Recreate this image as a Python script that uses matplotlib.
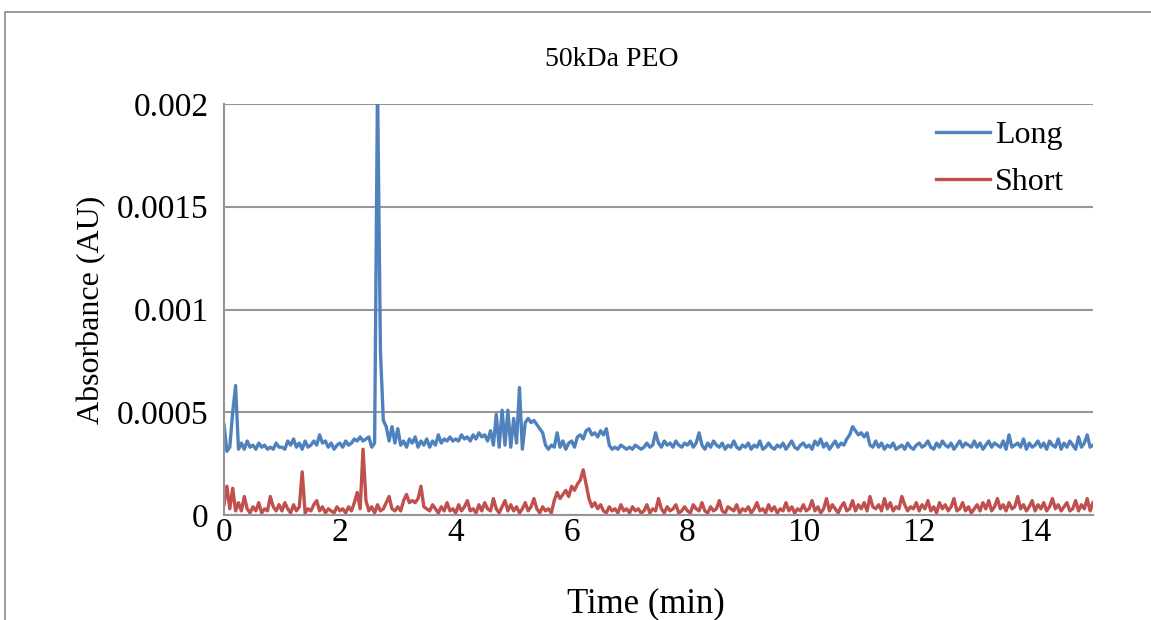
import numpy as np
import matplotlib.pyplot as plt
from matplotlib.patches import Rectangle
from matplotlib.ticker import FuncFormatter

# absorbance, in units of 1e-4 AU, one row per minute (step 0.05 min)
long_abs = [
    4.4, 3.1, 3.3, 5.0, 6.3, 3.2, 3.5, 3.2, 3.6, 3.3, 3.4, 3.2, 3.5, 3.3, 3.4, 3.2, 3.3, 3.2, 3.5, 3.3,
    3.3, 3.2, 3.6, 3.4, 3.7, 3.3, 3.5, 3.2, 3.6, 3.3, 3.4, 3.6, 3.4, 3.9, 3.5, 3.6, 3.3, 3.5, 3.2, 3.4,
    3.5, 3.3, 3.6, 3.4, 3.5, 3.7, 3.6, 3.8, 3.6, 3.7, 3.8, 3.3, 3.5, 21.0, 8.0, 4.6, 4.3, 3.6, 4.3, 3.5,
    4.2, 3.4, 3.6, 3.3, 3.7, 3.5, 3.8, 3.3, 3.6, 3.4, 3.7, 3.3, 3.6, 3.4, 3.9, 3.5, 3.7, 3.6, 3.8, 3.6,
    3.7, 3.6, 3.9, 3.7, 3.8, 3.6, 3.9, 3.7, 4.0, 3.8, 3.9, 3.6, 4.1, 3.4, 4.9, 3.3, 5.1, 3.4, 5.1, 3.3,
    4.7, 3.5, 6.2, 3.2, 4.5, 4.7, 4.5, 4.6, 4.4, 4.2, 4.0, 3.4, 3.2, 3.4, 3.3, 4.0, 3.3, 3.6, 3.2, 3.5,
    3.6, 3.3, 3.8, 3.9, 3.7, 4.1, 4.2, 3.9, 4.0, 3.8, 4.1, 3.9, 4.2, 3.4, 3.2, 3.3, 3.2, 3.4, 3.3, 3.2,
    3.3, 3.2, 3.4, 3.3, 3.2, 3.3, 3.5, 3.3, 3.4, 4.0, 3.5, 3.3, 3.6, 3.4, 3.5, 3.3, 3.6, 3.4, 3.3, 3.5,
    3.4, 3.6, 3.3, 3.5, 4.0, 3.4, 3.2, 3.5, 3.3, 3.6, 3.4, 3.3, 3.5, 3.2, 3.4, 3.3, 3.6, 3.3, 3.2, 3.4,
    3.3, 3.5, 3.2, 3.4, 3.3, 3.6, 3.2, 3.3, 3.5, 3.3, 3.2, 3.4, 3.3, 3.5, 3.2, 3.4, 3.6, 3.3, 3.2, 3.4,
    3.5, 3.3, 3.4, 3.2, 3.6, 3.4, 3.7, 3.3, 3.5, 3.2, 3.4, 3.6, 3.3, 3.5, 3.4, 3.7, 3.9, 4.3, 4.1, 3.9,
    4.0, 3.8, 4.0, 3.4, 3.3, 3.6, 3.3, 3.5, 3.2, 3.4, 3.3, 3.5, 3.2, 3.3, 3.4, 3.2, 3.5, 3.3, 3.2, 3.4,
    3.5, 3.3, 3.4, 3.6, 3.3, 3.2, 3.5, 3.3, 3.6, 3.4, 3.3, 3.5, 3.2, 3.4, 3.6, 3.3, 3.5, 3.4, 3.3, 3.6,
    3.3, 3.5, 3.2, 3.4, 3.6, 3.3, 3.5, 3.4, 3.3, 3.6, 3.2, 3.9, 3.3, 3.4, 3.5, 3.3, 3.7, 3.2, 3.5, 3.3,
    3.4, 3.6, 3.3, 3.5, 3.2, 3.6, 3.4, 3.3, 3.7, 3.2, 3.5, 3.3, 3.6, 3.4, 3.2, 3.8, 3.3, 3.5, 3.9, 3.3,
    3.4,
]
short_abs = [
    0.5, 1.4, 0.3, 1.3, 0.2, 0.6, 0.2, 0.9, 0.3, 0.1, 0.4, 0.2, 0.6, 0.1, 0.3, 0.2, 0.9, 0.4, 0.2, 0.5,
    0.2, 0.6, 0.3, 0.1, 0.5, 0.2, 0.4, 2.1, 0.1, 0.3, 0.2, 0.5, 0.7, 0.2, 0.4, 0.1, 0.3, 0.2, 0.1, 0.4,
    0.2, 0.3, 0.1, 0.4, 0.2, 0.6, 1.1, 0.3, 3.2, 0.7, 0.2, 0.4, 0.1, 0.5, 0.2, 0.3, 0.6, 0.9, 0.3, 0.2,
    0.4, 0.2, 0.7, 1.0, 0.6, 0.7, 0.6, 0.8, 1.4, 0.4, 0.3, 0.2, 0.5, 0.3, 0.1, 0.4, 0.2, 0.6, 0.2, 0.3,
    0.1, 0.5, 0.2, 0.4, 0.7, 0.2, 0.3, 0.1, 0.5, 0.2, 0.6, 0.3, 0.2, 0.8, 0.3, 0.1, 0.4, 0.7, 0.2, 0.5,
    0.2, 0.4, 0.1, 0.3, 0.6, 0.2, 0.4, 0.8, 0.3, 0.1, 0.4, 0.2, 0.3, 0.1, 0.7, 1.1, 0.8, 1.0, 1.2, 0.9,
    1.4, 1.2, 1.5, 1.7, 2.2, 1.5, 0.8, 0.4, 0.6, 0.3, 0.5, 0.2, 0.1, 0.4, 0.2, 0.3, 0.1, 0.5, 0.2, 0.3,
    0.1, 0.4, 0.2, 0.3, 0.1, 0.2, 0.5, 0.1, 0.3, 0.2, 0.8, 0.3, 0.1, 0.4, 0.2, 0.3, 0.5, 0.1, 0.2, 0.4,
    0.2, 0.1, 0.5, 0.3, 0.2, 0.6, 0.2, 0.1, 0.4, 0.2, 0.3, 0.7, 0.2, 0.1, 0.4, 0.3, 0.2, 0.5, 0.1, 0.3,
    0.2, 0.4, 0.1, 0.3, 0.6, 0.2, 0.3, 0.1, 0.5, 0.2, 0.4, 0.1, 0.3, 0.2, 0.6, 0.2, 0.4, 0.1, 0.3, 0.2,
    0.5, 0.2, 0.3, 0.7, 0.2, 0.4, 0.1, 0.3, 0.8, 0.2, 0.5, 0.3, 0.1, 0.4, 0.6, 0.2, 0.3, 0.7, 0.2, 0.5,
    0.3, 0.6, 0.2, 0.9, 0.4, 0.3, 0.5, 0.2, 0.8, 0.3, 0.6, 0.2, 0.4, 0.3, 0.9, 0.5, 0.2, 0.4, 0.3, 0.6,
    0.2, 0.5, 0.3, 0.7, 0.2, 0.4, 0.1, 0.6, 0.3, 0.5, 0.2, 0.4, 0.8, 0.2, 0.3, 0.6, 0.2, 0.4, 0.1, 0.3,
    0.5, 0.2, 0.6, 0.3, 0.7, 0.2, 0.4, 0.8, 0.3, 0.5, 0.2, 0.6, 0.3, 0.4, 0.9, 0.3, 0.5, 0.2, 0.4, 0.7,
    0.2, 0.5, 0.3, 0.6, 0.2, 0.4, 0.8, 0.3, 0.5, 0.2, 0.4, 0.6, 0.2, 0.3, 0.7, 0.2, 0.5, 0.3, 0.8, 0.2,
    0.6,
]
time_min = np.linspace(0, 15, len(long_abs))
series_names = ["Long", "Short"]
x_ticks = [0, 2, 4, 6, 8, 10, 12, 14]
y_ticks = [0, 0.0005, 0.001, 0.0015, 0.002]

plt.rcParams["font.family"] = ["Liberation Serif", "DejaVu Serif"]

fig = plt.figure(figsize=(11.51, 6.2), dpi=100)
ax = fig.add_axes([224 / 1151, 1 - 515 / 620, (1093 - 224) / 1151, (515 - 104) / 620])

# chart-area border (cropped on the right and bottom)
fig.patches.append(Rectangle((5 / 1151, -0.2), 1.5, 1.2 - 12 / 620,
                             transform=fig.transFigure, fill=False,
                             edgecolor="#8c8c8c", lw=1.2))

ax.plot(time_min, np.array(long_abs) * 1e-4, color="#4F81BD", lw=2.4, label=series_names[0])
ax.plot(time_min, np.array(short_abs) * 1e-4, color="#C0504D", lw=2.4, label=series_names[1])

ax.set_xlim(0, 15)
ax.set_ylim(0, 0.002)
ax.set_xticks(x_ticks)
ax.set_yticks(y_ticks)
ax.yaxis.set_major_formatter(FuncFormatter(lambda v, p: f"{v:g}"))
ax.grid(axis="y", color="#969696", lw=1.5)
ax.set_axisbelow(True)
for s in ["top", "right"]:
    ax.spines[s].set_visible(False)
for s in ["left", "bottom"]:
    ax.spines[s].set_color("#969696")
    ax.spines[s].set_linewidth(1.5)
ax.tick_params(length=0, labelsize=24)
ax.tick_params(axis="y", pad=11)
ax.tick_params(axis="x", pad=2)

# title is centred on the chart area rather than the plot area
fig.text(612 / 1151, 1 - 60 / 620, "50kDa PEO", fontsize=20, ha="center", va="center")
ax.set_xlabel("Time (min)", fontsize=25)
ax.xaxis.set_label_coords((646 - 224) / 869, (515 - 587) / 411)
ax.set_ylabel("Absorbance (AU)", fontsize=23, labelpad=8)

ax.legend(loc="upper right", bbox_to_anchor=(1.0, 1.03), frameon=False, fontsize=23,
          handlelength=1.7, handletextpad=0.15, labelspacing=0.55)

fig.savefig("out.png", dpi=100)
